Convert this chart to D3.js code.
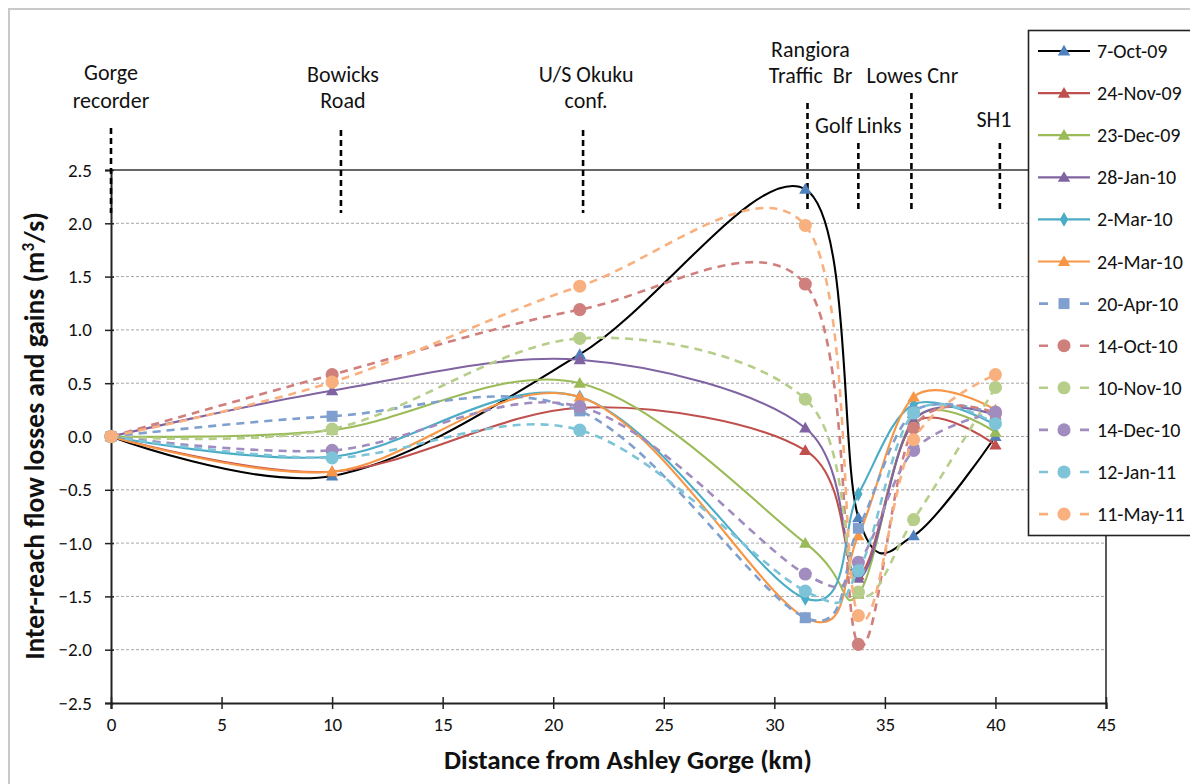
<!DOCTYPE html>
<html>
<head>
<meta charset="utf-8">
<script src="https://cdn.jsdelivr.net/npm/d3@7"></script>
<style>
  html, body { margin: 0; padding: 0; background: #fff; }
  svg { display: block; font-family: Carlito, Lato, "Liberation Sans", sans-serif; }
</style>
</head>
<body>
<svg id="chart" width="1190" height="784"></svg>
<script>
// Survey distances (km from Ashley Gorge) at which gaugings were made
const distances = [0, 10, 21.2, 31.4, 33.8, 36.3, 40];

// Gauging sites marked along the top of the chart
const siteNames = [["Gorge", "recorder"], ["Bowicks", "Road"], ["U/S Okuku", "conf."],
                   ["Rangiora", "Traffic  Br"], ["Golf Links"], ["Lowes Cnr"], ["SH1"]];
const siteKm = [0, 10.4, 21.35, 31.5, 33.8, 36.2, 40.2];

// Survey dates
const seriesNames = ["7-Oct-09", "24-Nov-09", "23-Dec-09", "28-Jan-10", "2-Mar-10", "24-Mar-10",
                     "20-Apr-10", "14-Oct-10", "10-Nov-10", "14-Dec-10", "12-Jan-11", "11-May-11"];

// Inter-reach flow losses (-) and gains (+), m3/s, one value per distance
const oct09 = [0, -0.37, 0.77, 2.32, -0.76, -0.93, 0.00];
const nov09 = [0, -0.33, 0.27, -0.13, -1.30, 0.12, -0.08];
const dec09 = [0, 0.06, 0.50, -1.00, -1.48, 0.16, 0.04];
const jan10 = [0, 0.43, 0.72, 0.08, -1.33, 0.15, 0.20];
const mar10a = [0, -0.19, 0.37, -1.52, -0.54, 0.30, 0.11];
const mar10b = [0, -0.33, 0.37, -1.70, -0.93, 0.37, 0.25];
const apr10 = [0, 0.19, 0.24, -1.70, -0.86, 0.23, 0.21];
const oct10 = [0, 0.58, 1.19, 1.43, -1.95, 0.08, 0.22];
const nov10 = [0, 0.07, 0.92, 0.35, -1.46, -0.78, 0.46];
const dec10 = [0, -0.13, 0.28, -1.29, -1.18, -0.13, 0.23];
const jan11 = [0, -0.20, 0.06, -1.45, -1.26, 0.22, 0.12];
const may11 = [0, 0.51, 1.41, 1.98, -1.68, -0.03, 0.58];

const seriesValues = [oct09, nov09, dec09, jan10, mar10a, mar10b, apr10, oct10, nov10, dec10, jan11, may11];

const yTicks = [-2.5, -2.0, -1.5, -1.0, -0.5, 0.0, 0.5, 1.0, 1.5, 2.0, 2.5];
const xTicks = [0, 5, 10, 15, 20, 25, 30, 35, 40, 45];

// Line / marker styling per series
const styles = [
  { line: "#000000", mark: "#4F81BD", shape: "tri", dash: null },
  { line: "#C0504D", mark: "#C0504D", shape: "tri", dash: null },
  { line: "#9BBB59", mark: "#9BBB59", shape: "tri", dash: null },
  { line: "#8064A2", mark: "#8064A2", shape: "tri", dash: null },
  { line: "#4BACC6", mark: "#4BACC6", shape: "dia", dash: null },
  { line: "#F79646", mark: "#F79646", shape: "tri", dash: null },
  { line: "#7F9FCF", mark: "#7F9FCF", shape: "sq", dash: "8,6" },
  { line: "#CF7F7C", mark: "#CF7F7C", shape: "circ", dash: "8,6" },
  { line: "#B6CE8A", mark: "#B6CE8A", shape: "circ", dash: "8,6" },
  { line: "#A08CBE", mark: "#A08CBE", shape: "circ", dash: "8,6" },
  { line: "#7DC4D8", mark: "#7DC4D8", shape: "circ", dash: "8,6" },
  { line: "#F9B07F", mark: "#F9B07F", shape: "circ", dash: "8,6" }
];

const svg = d3.select("#chart");

// Outer chart frame
svg.append("path")
  .attr("d", "M9,790 V9 H1200")
  .attr("fill", "none").attr("stroke", "#c9c9c9").attr("stroke-width", 2);

const x = d3.scaleLinear().domain([0, 45]).range([111, 1106]);
const y = d3.scaleLinear().domain([-2.5, 2.5]).range([703, 170]);

// Horizontal gridlines
svg.append("g").selectAll("line")
  .data(yTicks.filter(v => v > -2.5 && v < 2.5))
  .join("line")
  .attr("x1", x(0)).attr("x2", x(45))
  .attr("y1", d => y(d)).attr("y2", d => y(d))
  .attr("stroke", "#a6a6a6").attr("stroke-width", 1).attr("stroke-dasharray", "3,2");

// Plot frame: top (2.5) and right (45 km) edges
svg.append("line").attr("x1", x(0)).attr("x2", x(45)).attr("y1", y(2.5)).attr("y2", y(2.5))
  .attr("stroke", "#333").attr("stroke-width", 1.6);
svg.append("line").attr("x1", x(45)).attr("x2", x(45)).attr("y1", y(2.5)).attr("y2", y(-2.5))
  .attr("stroke", "#333").attr("stroke-width", 1.6);

// Axes
const yAxis = d3.axisLeft(y).tickValues(yTicks).tickFormat(d3.format(".1f")).tickSize(6).tickPadding(13);
const gy = svg.append("g").attr("transform", `translate(${x(0)},0)`).call(yAxis);
gy.attr("font-size", null).attr("font-family", null);
gy.select(".domain").attr("stroke", "#222").attr("stroke-width", 2);
gy.selectAll(".tick line").attr("x2", -6).attr("x1", 3).attr("stroke", "#222").attr("stroke-width", 1.5);
gy.selectAll(".tick text").style("font-size", "19px").attr("fill", "#111");

const xAxis = d3.axisBottom(x).tickValues(xTicks).tickSize(6).tickPadding(9);
const gx = svg.append("g").attr("transform", `translate(0,${y(-2.5)})`).call(xAxis);
gx.attr("font-size", null).attr("font-family", null);
gx.select(".domain").attr("stroke", "#222").attr("stroke-width", 2.2);
gx.selectAll(".tick line").attr("y1", -6).attr("stroke", "#222").attr("stroke-width", 1.5);
gx.selectAll(".tick text").style("font-size", "19px").attr("fill", "#111");

// Axis titles
svg.append("text")
  .attr("x", 628).attr("y", 769).attr("text-anchor", "middle")
  .style("font-size", "27px").attr("font-weight", "bold").attr("fill", "#111")
  .text("Distance from Ashley Gorge (km)");

const yt = svg.append("text")
  .attr("transform", "translate(44,436) rotate(-90)")
  .attr("text-anchor", "middle")
  .style("font-size", "27.5px").attr("font-weight", "bold").attr("fill", "#111");
yt.append("tspan").text("Inter-reach flow losses and gains (m");
yt.append("tspan").style("font-size", "17px").attr("dy", -10).text("3");
yt.append("tspan").attr("dy", 10).text("/s)");

// Site markers (vertical dashed lines) and names
const siteTop = [128, 130, 130, 103, 143, 93, 143];
const siteLabelY = [[80, 108], [82, 108], [82, 108], [57, 83], [133], [83], [127]];
const siteLabelDx = [0, 2, 3, 3, 0, 1, -6];

svg.append("g").selectAll("line")
  .data(siteKm)
  .join("line")
  .attr("x1", d => x(d)).attr("x2", d => x(d))
  .attr("y1", (d, i) => siteTop[i]).attr("y2", 213)
  .attr("stroke", "#000").attr("stroke-width", 2.6).attr("stroke-dasharray", "6,4");

siteNames.forEach((lines, i) => {
  lines.forEach((t, j) => {
    svg.append("text")
      .attr("x", x(siteKm[i]) + siteLabelDx[i]).attr("y", siteLabelY[i][j])
      .attr("text-anchor", "middle").style("font-size", "22px").attr("fill", "#111")
      .attr("xml:space", "preserve").style("white-space", "pre")
      .text(t);
  });
});

// Marker shapes
function markerPath(shape) {
  if (shape === "tri") return d3.symbol(d3.symbolTriangle, 66)();
  if (shape === "dia") return d3.symbol(d3.symbolDiamond, 62)();
  if (shape === "sq") return d3.symbol(d3.symbolSquare, 120)();
  return d3.symbol(d3.symbolCircle, 135)();
}

const line = d3.line()
  .x((d, i) => x(distances[i]))
  .y(d => y(d))
  .curve(d3.curveCardinal.tension(0));

const plot = svg.append("g");
seriesValues.forEach((vals, s) => {
  const st = styles[s];
  const g = plot.append("g");
  g.append("path")
    .datum(vals)
    .attr("d", line)
    .attr("fill", "none")
    .attr("stroke", st.line)
    .attr("stroke-width", st.dash ? 2.6 : 2.1)
    .attr("stroke-dasharray", st.dash);
  g.selectAll("path.m")
    .data(vals)
    .join("path")
    .attr("class", "m")
    .attr("d", markerPath(st.shape))
    .attr("transform", (d, i) => `translate(${x(distances[i])},${y(d) + (st.shape === "tri" ? 1 : 0)})`)
    .attr("fill", st.mark);
});

// Legend
const legend = svg.append("g");
legend.append("rect")
  .attr("x", 1028.5).attr("y", 30.5).attr("width", 200).attr("height", 505)
  .attr("fill", "#fff").attr("stroke", "#222").attr("stroke-width", 1.6);

seriesNames.forEach((name, i) => {
  const st = styles[i];
  const ly = 51 + i * 42.1;
  legend.append("line")
    .attr("x1", st.dash ? 1039 : 1038).attr("x2", st.dash ? 1089 : 1090).attr("y1", ly).attr("y2", ly)
    .attr("stroke", st.line).attr("stroke-width", st.dash ? 2.6 : 2.2)
    .attr("stroke-dasharray", st.dash ? "9,32" : null);
  legend.append("path")
    .attr("d", markerPath(st.shape))
    .attr("transform", `translate(1064,${ly + (st.shape === "tri" ? 1 : 0)})`)
    .attr("fill", st.mark);
  legend.append("text")
    .attr("x", 1097).attr("y", ly + 7)
    .style("font-size", "20px").attr("fill", "#111")
    .text(name);
});
</script>
</body>
</html>
